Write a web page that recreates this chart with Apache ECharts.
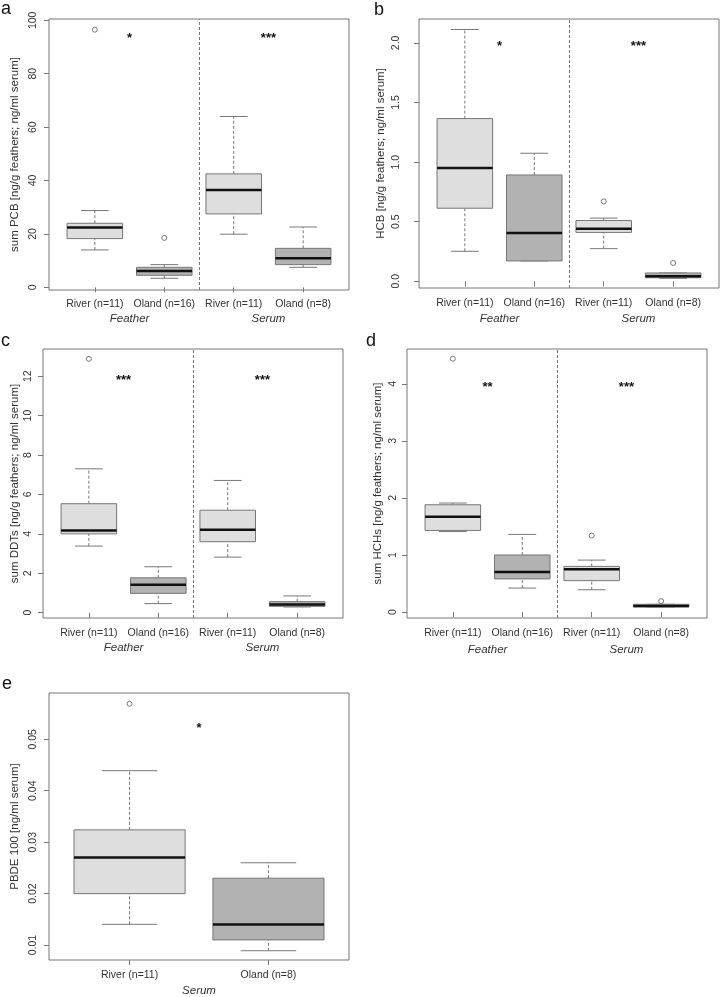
<!DOCTYPE html>
<html>
<head>
<meta charset="utf-8">
<script src="https://cdn.jsdelivr.net/npm/echarts@6/dist/echarts.min.js"></script>
<style>
  html, body { margin: 0; padding: 0; background: #fff; }
  #chart { width: 726px; height: 997px; }
</style>
</head>
<body>
<div id="chart"></div>
<script>
// group names along the x axes
const groupLabels = ['River (n=11)', 'Oland (n=16)', 'River (n=11)', 'Oland (n=8)'];
const tissueLabels = ['Feather', 'Serum'];
const serumGroupLabels = ['River (n=11)', 'Oland (n=8)'];
const serumTissueLabels = ['Serum'];

// boxes: [lower whisker, Q1, median, Q3, upper whisker]
const pcbBoxes = [[14, 18.25, 22.4, 24, 28.75], [3.4, 4.5, 6.1, 7.5, 8.5], [19.9, 27.5, 36.5, 42.5, 64], [7.5, 8.5, 10.9, 14.6, 22.6]];
const pcbOutliers = [[1, 96.5], [2, 18.5]];
const pcbStars = [[1.5, 94.6, '*'], [3.5, 94.6, '***']];
const pcbTicks = [0, 20, 40, 60, 80, 100];

const hcbBoxes = [[0.252, 0.613, 0.951, 1.365, 2.112], [0.171, 0.171, 0.406, 0.892, 1.074], [0.274, 0.41, 0.44, 0.51, 0.53], [0.025, 0.03, 0.042, 0.07, 0.07]];
const hcbOutliers = [[3, 0.67], [4, 0.154]];
const hcbStars = [[1.5, 2.0, '*'], [3.5, 2.0, '***']];
const hcbTicks = [0, 0.5, 1, 1.5, 2];

const ddtBoxes = [[3.38, 4.0, 4.17, 5.53, 7.3], [0.46, 0.98, 1.42, 1.77, 2.33], [2.82, 3.6, 4.21, 5.2, 6.71], [0.29, 0.32, 0.42, 0.56, 0.85]];
const ddtOutliers = [[1, 12.88]];
const ddtStars = [[1.5, 12.0, '***'], [3.5, 12.0, '***']];
const ddtTicks = [0, 2, 4, 6, 8, 10, 12];

const hchBoxes = [[1.41, 1.43, 1.67, 1.88, 1.91], [0.42, 0.58, 0.7, 1.0, 1.36], [0.39, 0.55, 0.75, 0.8, 0.91], [0.09, 0.09, 0.105, 0.135, 0.135]];
const hchOutliers = [[1, 4.44], [3, 1.34], [4, 0.19]];
const hchStars = [[1.5, 4.0, '**'], [3.5, 4.0, '***']];
const hchTicks = [0, 1, 2, 3, 4];

const pbdeBoxes = [[0.01404, 0.02, 0.027, 0.0324, 0.0439], [0.0089, 0.011, 0.014, 0.023, 0.026]];
const pbdeOutliers = [[1, 0.0569]];
const pbdeStars = [[1.5, 0.0528, '*']];
const pbdeTicks = [0.01, 0.02, 0.03, 0.04, 0.05];

const FONT = 'Liberation Sans, Arial, Helvetica, sans-serif';
const TEXT = '#333';
const FRAME = '#777';
const LIGHT = '#dedede';
const DARK = '#b2b2b2';

const panels = [
  { letter: 'a', lx: 1, ly: 0, left: 49, top: 19, width: 300, height: 271, ymin: -1, ymax: 100.5, dec: 0,
    name: 'sum PCB [ng/g feathers; ng/ml serum]', nameGap: 28, labelMargin: 10, xMargin: 8.5, tMargin: 23,
    boxes: pcbBoxes, outliers: pcbOutliers, stars: pcbStars, ticks: pcbTicks },
  { letter: 'b', lx: 374, ly: 1, left: 419, top: 19, width: 300, height: 269, ymin: -0.056, ymax: 2.2, dec: 1,
    name: 'HCB [ng/g feathers; ng/ml serum]', nameGap: 32, labelMargin: 17, xMargin: 10, tMargin: 25,
    boxes: hcbBoxes, outliers: hcbOutliers, stars: hcbStars, ticks: hcbTicks },
  { letter: 'c', lx: 1, ly: 332, left: 43, top: 349, width: 300, height: 269, ymin: -0.27, ymax: 13.38, dec: 0,
    name: 'sum DDTs [ng/g feathers; ng/ml serum]', nameGap: 22, labelMargin: 9, xMargin: 9.5, tMargin: 24,
    boxes: ddtBoxes, outliers: ddtOutliers, stars: ddtStars, ticks: ddtTicks },
  { letter: 'd', lx: 366, ly: 332, left: 407, top: 349, width: 300, height: 269, ymin: -0.105, ymax: 4.61, dec: 0,
    name: 'sum HCHs [ng/g feathers; ng/ml serum]', nameGap: 23, labelMargin: 8, xMargin: 9.5, tMargin: 25.5,
    boxes: hchBoxes, outliers: hchOutliers, stars: hchStars, ticks: hchTicks },
  { letter: 'e', lx: 2, ly: 675, left: 49, top: 693, width: 300, height: 270, ymin: 0.0071, ymax: 0.059, dec: 2,
    name: 'PBDE 100 [ng/ml serum]', nameGap: 28, labelMargin: 10, xMargin: 10, tMargin: 25,
    boxes: pbdeBoxes, outliers: pbdeOutliers, stars: pbdeStars, ticks: pbdeTicks,
    groups: serumGroupLabels, tissues: serumTissueLabels }
];

function renderBox(params, api) {
  const x = api.value(0);
  const lo = api.coord([x, api.value(1)]);
  const q1 = api.coord([x, api.value(2)]);
  const md = api.coord([x, api.value(3)]);
  const q3 = api.coord([x, api.value(4)]);
  const hi = api.coord([x, api.value(5)]);
  const bw = api.size([0.8, 0])[0];
  const cw = bw / 2;
  const cx = lo[0];
  const fill = params.dataIndex % 2 === 0 ? LIGHT : DARK;
  const dashed = { stroke: FRAME, lineWidth: 1, lineDash: [3, 2] };
  const solid = { stroke: FRAME, lineWidth: 1 };
  return {
    type: 'group',
    children: [
      { type: 'line', shape: { x1: cx, y1: lo[1], x2: cx, y2: q1[1] }, style: dashed },
      { type: 'line', shape: { x1: cx, y1: q3[1], x2: cx, y2: hi[1] }, style: dashed },
      { type: 'line', shape: { x1: cx - cw / 2, y1: lo[1], x2: cx + cw / 2, y2: lo[1] }, style: solid },
      { type: 'line', shape: { x1: cx - cw / 2, y1: hi[1], x2: cx + cw / 2, y2: hi[1] }, style: solid },
      { type: 'rect', shape: { x: cx - bw / 2, y: q3[1], width: bw, height: q1[1] - q3[1] },
        style: { fill: fill, stroke: FRAME, lineWidth: 1 } },
      { type: 'line', shape: { x1: cx - bw / 2, y1: md[1], x2: cx + bw / 2, y2: md[1] },
        style: { stroke: '#111', lineWidth: 2.5 } }
    ]
  };
}

function starRenderer(stars) {
  return function (params, api) {
    const p = api.coord([api.value(0), api.value(1)]);
    return {
      type: 'text',
      x: p[0],
      y: p[1] + 4,
      style: {
        text: stars[params.dataIndex][2],
        fill: '#111',
        font: 'bold 13px ' + FONT,
        align: 'center',
        verticalAlign: 'middle'
      }
    };
  };
}

const grid = [];
const xAxis = [];
const yAxis = [];
const series = [];
const graphic = [];

panels.forEach((p, i) => {
  const groups = p.groups || groupLabels;
  const tissues = p.tissues || tissueLabels;
  const n = groups.length;
  const xmin = 0.5 - n * 0.04;
  const xmax = n + 0.5 + n * 0.04;
  const groupPos = groups.map((g, k) => k + 1);
  const tissuePos = tissues.map((t, k) => 2 * k + 1.5);

  grid.push({
    left: p.left, top: p.top, width: p.width, height: p.height,
    show: true, borderColor: FRAME, borderWidth: 1, backgroundColor: 'transparent'
  });

  xAxis.push({
    type: 'value', gridIndex: i, min: xmin, max: xmax, position: 'bottom',
    axisLine: { show: false },
    splitLine: { show: false },
    axisTick: { show: true, length: 5, lineStyle: { color: FRAME }, customValues: groupPos },
    axisLabel: {
      customValues: groupPos, margin: p.xMargin, color: TEXT, fontFamily: FONT, fontSize: 10.5,
      formatter: v => groups[Math.round(v) - 1]
    }
  });
  xAxis.push({
    type: 'value', gridIndex: i, min: xmin, max: xmax, position: 'bottom',
    axisLine: { show: false },
    splitLine: { show: false },
    axisTick: { show: false },
    axisLabel: {
      customValues: tissuePos, margin: p.tMargin, color: TEXT, fontFamily: FONT, fontSize: 11.5,
      fontStyle: 'italic',
      formatter: v => tissues[tissuePos.indexOf(v)]
    }
  });

  yAxis.push({
    type: 'value', gridIndex: i, min: p.ymin, max: p.ymax,
    name: p.name, nameLocation: 'middle', nameGap: p.nameGap,
    nameTextStyle: { color: TEXT, fontFamily: FONT, fontSize: 11.5 },
    axisLine: { show: false },
    splitLine: { show: false },
    axisTick: { show: true, length: 5, lineStyle: { color: FRAME }, customValues: p.ticks },
    axisLabel: {
      customValues: p.ticks, rotate: 90, margin: p.labelMargin, color: TEXT, fontFamily: FONT, fontSize: 10.5,
      formatter: v => v.toFixed(p.dec)
    }
  });

  const boxSeries = {
    type: 'custom',
    xAxisIndex: 2 * i,
    yAxisIndex: i,
    renderItem: renderBox,
    encode: { x: 0, y: [1, 2, 3, 4, 5] },
    data: p.boxes.map((b, k) => [k + 1].concat(b))
  };
  if (n === 4) {
    boxSeries.markLine = {
      silent: true,
      symbol: ['none', 'none'],
      label: { show: false },
      lineStyle: { type: [3, 2], color: FRAME, width: 1 },
      data: [{ xAxis: 2.5 }]
    };
  }
  series.push(boxSeries);

  series.push({
    type: 'scatter',
    xAxisIndex: 2 * i,
    yAxisIndex: i,
    symbol: 'circle',
    symbolSize: 5,
    itemStyle: { color: '#fff', borderColor: FRAME, borderWidth: 1, opacity: 1 },
    z: 5,
    data: p.outliers
  });

  series.push({
    type: 'custom',
    xAxisIndex: 2 * i,
    yAxisIndex: i,
    renderItem: starRenderer(p.stars),
    encode: { x: 0, y: 1 },
    data: p.stars.map(s => [s[0], s[1]])
  });

  graphic.push({
    type: 'text', left: p.lx, top: p.ly,
    style: { text: p.letter, fill: '#111', font: '18px ' + FONT }
  });
});

const chart = echarts.init(document.getElementById('chart'));
chart.setOption({
  animation: false,
  backgroundColor: '#fff',
  grid: grid,
  xAxis: xAxis,
  yAxis: yAxis,
  series: series,
  graphic: graphic
});
</script>
</body>
</html>
